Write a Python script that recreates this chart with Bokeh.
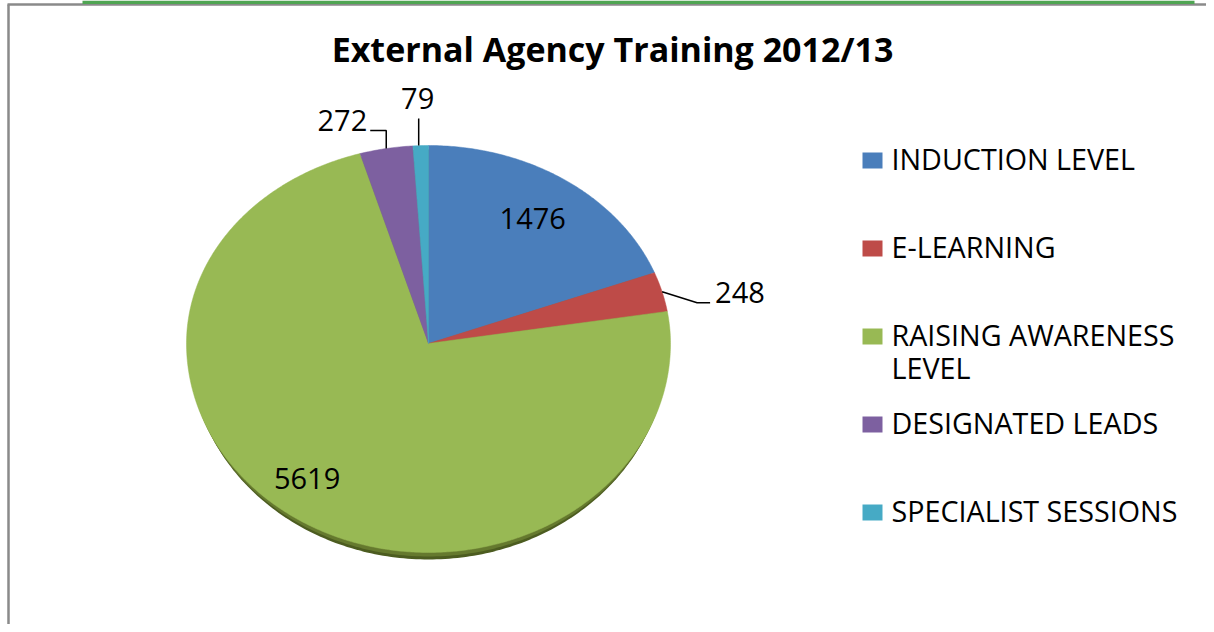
import numpy as np
from bokeh.plotting import figure
from bokeh.models import Range1d
from bokeh.core.properties import value
from bokeh.embed import file_html
from bokeh.resources import INLINE

# ---------------- data ----------------
title = "External Agency Training 2012/13"
categories = ["INDUCTION LEVEL", "E-LEARNING", "RAISING AWARENESS\nLEVEL",
              "DESIGNATED LEADS", "SPECIALIST SESSIONS"]
values = [1476, 248, 5619, 272, 79]
colors = ["#4a7ebb", "#be4b48", "#98b954", "#7d60a0", "#46aac5"]

# ---------------- layout ----------------
W, H = 1206, 624
cx, cy = 428, 343
rx, ry_top, ry_bot = 242, 198, 209
FONT = "Open Sans"
LBL = "29px"
LEG = "28.7px"
TY = -11  # vertical correction for text baseline placement

p = figure(width=W, height=H, x_range=Range1d(0, W), y_range=Range1d(H, 0),
           output_backend="svg", toolbar_location=None, min_border=0,
           x_axis_type=None, y_axis_type=None)
p.grid.visible = False
p.outline_line_color = None
p.background_fill_color = "white"
p.border_fill_color = "white"

def ell(a_deg, f=1.0, rxx=rx, dy=0.0):
    a = np.radians(a_deg)
    c = np.cos(a)
    ry = np.where(c >= 0, ry_top, ry_bot)
    return cx + rxx * f * np.sin(a), cy - ry * f * c + dy

# frame decorations
p.line([8, 8], [4, H], line_color="#8a8a8a", line_width=2.5)
p.line([7, W], [4, 4], line_color="#8a8a8a", line_width=2.5)
p.quad(left=[82], right=[1194], top=[0], bottom=[3.5], fill_color="#4fa553", line_color=None)

# shadow under the pie
ang = np.linspace(0, 360, 361)
sx, sy = ell(ang, rxx=238, dy=7)
p.patch(list(sx), list(sy), fill_color="#4c5c20", line_color=None)
sx2, sy2 = ell(ang, rxx=240, dy=4)
p.patch(list(sx2), list(sy2), fill_color="#65792e", line_color=None)

# slices
total = float(sum(values))
starts, ends = [], []
acc = 0.0
for v in values:
    starts.append(acc / total * 360)
    acc += v
    ends.append(acc / total * 360)

xs, ys = [], []
for s, e in zip(starts, ends):
    n = max(int((e - s) * 2), 3)
    a = np.linspace(s, e, n)
    ex, ey = ell(a)
    xs.append([cx] + list(ex))
    ys.append([cy] + list(ey))
p.patches(xs, ys, fill_color=colors, line_color=colors, line_width=0.5)

mids = [(s + e) / 2 for s, e in zip(starts, ends)]

def label(x, y, txt, align, size=LBL, bold=False):
    p.text([x], [y + TY], text=[txt], text_align=align, text_baseline="alphabetic",
           text_font=value(FONT), text_font_size=size,
           text_font_style="bold" if bold else "normal", text_color="black")

# inside labels
inside = {0: (0.0, 0.76), 2: (5.6, 0.82)}
for i, (shift, f) in inside.items():
    lx, ly = ell(mids[i] + shift, f)
    label(float(lx), float(ly) + 10, str(values[i]), "center")

# outside labels with leader lines
# E-LEARNING
ex_, ey_ = [float(t) for t in ell(mids[1])]
p.line([ex_, ex_ + 35, ex_ + 48], [ey_, ey_ + 11, ey_ + 11], line_color="black", line_width=1.5)
label(ex_ + 53, ey_ + 12, str(values[1]), "left")
# DESIGNATED LEADS
ex_, ey_ = [float(t) for t in ell(mids[3])]
p.line([ex_, ex_, ex_ - 16], [ey_, ey_ - 18, ey_ - 18], line_color="black", line_width=1.5)
label(ex_ - 19, ey_ - 17, str(values[3]), "right")
# SPECIALIST SESSIONS
ex_, ey_ = [float(t) for t in ell(mids[4])]
p.line([ex_ - 2, ex_ - 2], [ey_, ey_ - 27], line_color="black", line_width=1.5)
label(ex_ - 3, ey_ - 36, str(values[4]), "center")

# title
label(612, 59, title, "center", size="34px", bold=True)

# legend
ly0, lstep = 160, 88
for i, (cat, col) in enumerate(zip(categories, colors)):
    yc = ly0 + i * lstep
    p.rect([872], [yc], width=20, height=16, fill_color=col, line_color=None)
    for j, line in enumerate(cat.split("\n")):
        label(891, yc + 9 + j * 33, line, "left", size=LEG)

open("out.html", "w").write(file_html(p, INLINE))
